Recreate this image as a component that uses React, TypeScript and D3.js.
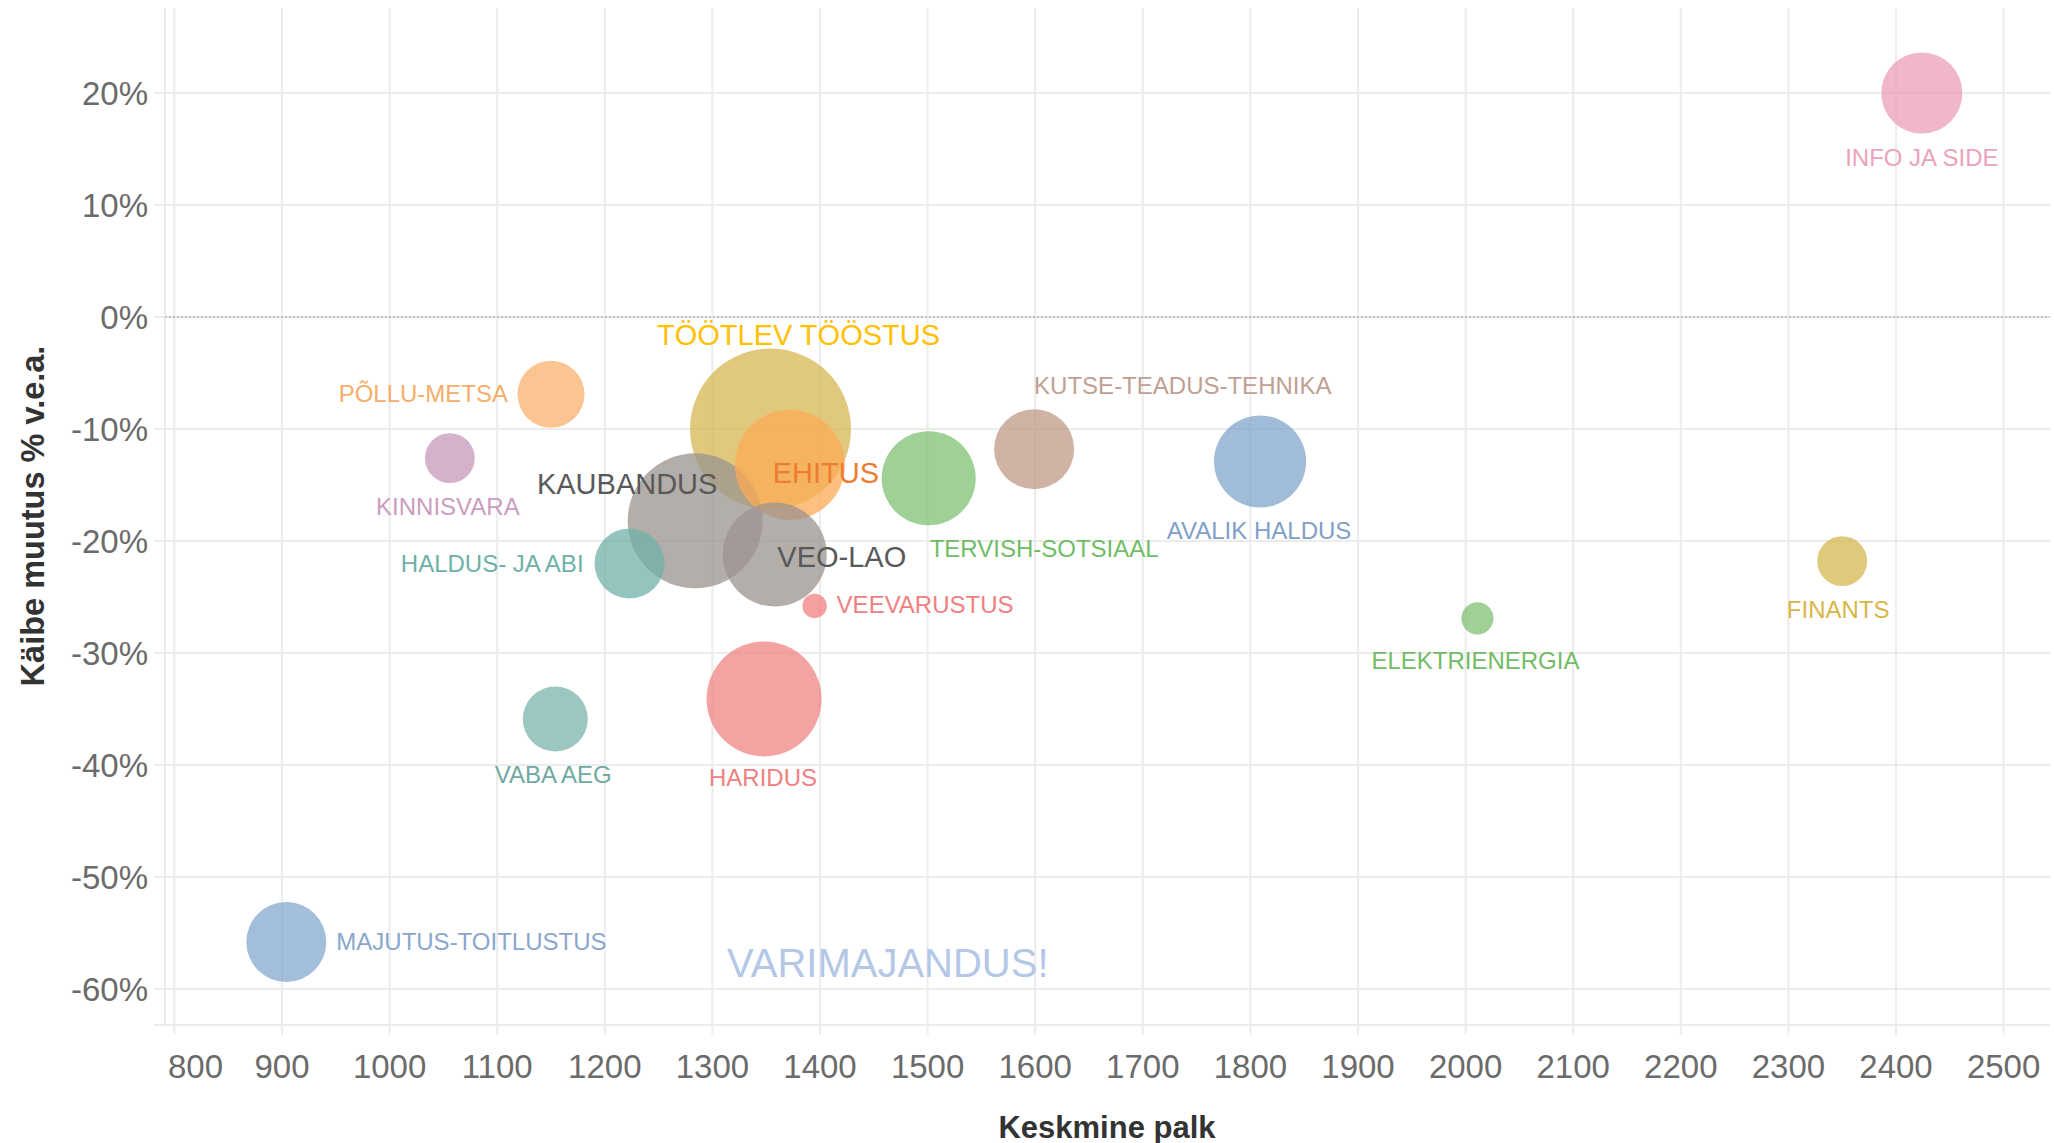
import React from 'react';
import * as d3 from 'd3';

// ---- data ----
const sectors = [
  'INFO JA SIDE', 'FINANTS', 'ELEKTRIENERGIA', 'AVALIK HALDUS', 'KUTSE-TEADUS-TEHNIKA',
  'TERVISH-SOTSIAAL', 'TÖÖTLEV TÖÖSTUS', 'KAUBANDUS', 'HARIDUS', 'EHITUS', 'VEO-LAO',
  'VEEVARUSTUS', 'HALDUS- JA ABI', 'KINNISVARA', 'PÕLLU-METSA', 'VABA AEG', 'MAJUTUS-TOITLUSTUS',
];
const avgWage = [2424, 2350, 2011, 1809, 1599, 1501, 1354, 1284, 1348, 1372, 1358, 1395, 1223, 1056, 1150, 1154, 904];
const turnoverChange = [20.0, -21.8, -26.9, -12.9, -11.8, -14.4, -10.0, -18.2, -34.1, -13.2, -21.2, -25.8, -22.0, -12.6, -6.9, -35.9, -55.8];
const bubbleSize = [25.4, 9.6, 4.0, 32.7, 24.7, 34.1, 100, 70.3, 51.0, 46.7, 41.7, 2.3, 18.9, 9.6, 17.3, 16.3, 24.7];

const xTicks = d3.range(800, 2501, 100);
const yTicks = d3.range(-60, 21, 10);

const xTitle = 'Keskmine palk';
const yTitle = 'Käibe muutus % v.e.a.';
const annotationText = 'VARIMAJANDUS!';
const annotationPos = [1463, -57.7];

// ---- styles ----
const bubbleOnWhite = [
  '#efb7c9', '#dfc97b', '#9fd095', '#a0bcd8', '#cfb4a6',
  '#9fd095', '#e0c97c', '#b4aeab', '#f4a3a3', '#fdc080', '#b4aeab',
  '#f4a0a0', '#94c4be', '#d5b2cc', '#fbc490', '#9cc6c0', '#a2bedb',
];
const labelColors = [
  '#eba2bd', '#d8b646', '#72bb64', '#7f9fc8', '#c0a092',
  '#6fbd64', '#ffc000', '#595959', '#f08080', '#ed7d31', '#595959',
  '#f08080', '#6db0a8', '#cb9dbf', '#f7ad6a', '#6fa9a1', '#89a6cc',
];
// label placement: [dx, dy, anchor, big]
const labelLayout: [number, number, string, boolean][] = [
  [0, 64, 'middle', false],
  [-4, 48, 'middle', false],
  [-2, 42, 'middle', false],
  [-1, 69, 'middle', false],
  [0, -64, 'start', false],
  [1, 70, 'start', false],
  [28, -94, 'middle', true],
  [-68, -37, 'middle', true],
  [-1, 79, 'middle', false],
  [36, 8, 'middle', true],
  [67, 3, 'middle', true],
  [22, -1, 'start', false],
  [-46, 0, 'end', false],
  [-2, 48, 'middle', false],
  [-43, -1, 'end', false],
  [-2, 55, 'middle', false],
  [50, 0, 'start', false],
];

const W = 2054;
const H = 1143;
const pane = { left: 165, right: 2050, top: 8, bottom: 1025 };
const ALPHA = 0.75;

function baseColor(hex: string) {
  const c = d3.rgb(hex);
  const f = (v: number) => Math.max(0, Math.min(255, Math.round((v - 255 * (1 - ALPHA)) / ALPHA)));
  return d3.rgb(f(c.r), f(c.g), f(c.b)).formatHex();
}

export default function App() {
  const x = d3.scaleLinear().domain([800, 2500]).range([174.4, 2003.6]);
  const y = d3.scaleLinear().domain([20, -60]).range([93, 989]);
  const r = d3.scaleSqrt().domain([0, 100]).range([0, 80.5]);

  const idx = d3.range(sectors.length);
  const order = [...idx].sort((a, b) => bubbleSize[b] - bubbleSize[a]);
  const font = '"Liberation Sans", Arial, sans-serif';
  const grid = '#ececec';

  return (
    <svg width={W} height={H} style={{ position: 'absolute', left: 0, top: 0, background: '#fff' }} fontFamily={font}>
      <rect x={0} y={0} width={W} height={H} fill="#fff" />
      {/* vertical gridlines */}
      {xTicks.map((t) => (
        <line key={'vx' + t} x1={x(t)} x2={x(t)} y1={pane.top} y2={pane.bottom + 10} stroke={grid} strokeWidth={2} />
      ))}
      {/* horizontal gridlines */}
      {yTicks.filter((t) => t !== 0).map((t) => (
        <line key={'hy' + t} x1={pane.left - 11} x2={pane.right} y1={y(t)} y2={y(t)} stroke={grid} strokeWidth={2} />
      ))}
      {/* pane borders */}
      <line x1={pane.left} x2={pane.left} y1={pane.top} y2={pane.bottom} stroke={grid} strokeWidth={2} />
      <line x1={pane.left - 11} x2={pane.right} y1={pane.bottom} y2={pane.bottom} stroke={grid} strokeWidth={2} />
      {/* zero line */}
      <line x1={pane.left - 11} x2={pane.right} y1={y(0)} y2={y(0)} stroke={grid} strokeWidth={2} />
      <line x1={pane.left} x2={pane.right} y1={y(0)} y2={y(0)} stroke="#b0b0b0" strokeWidth={1.5} strokeDasharray="2,2" />

      {/* x tick labels */}
      {xTicks.map((t, i) => (
        <text key={'xl' + t} x={i === 0 ? pane.left + 3 : x(t)} y={1066} textAnchor={i === 0 ? 'start' : 'middle'}
          dominantBaseline="central" fontSize={33} fill="#6b6b6b">{t}</text>
      ))}
      {/* y tick labels */}
      {yTicks.map((t) => (
        <text key={'yl' + t} x={148} y={y(t)} textAnchor="end" dominantBaseline="central" fontSize={33} fill="#6b6b6b">
          {`${t}%`}
        </text>
      ))}

      {/* axis titles */}
      <text x={1107} y={1127} textAnchor="middle" dominantBaseline="central" fontSize={31} fontWeight="bold" fill="#333">{xTitle}</text>
      <text transform={`translate(33,516) rotate(-90)`} textAnchor="middle" dominantBaseline="central" fontSize={32.5} fontWeight="bold" fill="#333">{yTitle}</text>

      {/* bubbles */}
      {order.map((i) => (
        <circle key={'c' + i} cx={x(avgWage[i])} cy={y(turnoverChange[i])} r={r(bubbleSize[i])}
          fill={baseColor(bubbleOnWhite[i])} fillOpacity={ALPHA} />
      ))}

      {/* labels */}
      {idx.map((i) => {
        const [dx, dy, anchor, big] = labelLayout[i];
        return (
          <text key={'l' + i} x={x(avgWage[i]) + dx} y={y(turnoverChange[i]) + dy} textAnchor={anchor as any}
            dominantBaseline="central" fontSize={big ? 29 : 24} fill={labelColors[i]}>
            {sectors[i]}
          </text>
        );
      })}

      {/* annotation */}
      <text x={x(annotationPos[0])} y={y(annotationPos[1])} textAnchor="middle" dominantBaseline="central"
        fontSize={40} fill="#b4c7e7">{annotationText}</text>
    </svg>
  );
}
